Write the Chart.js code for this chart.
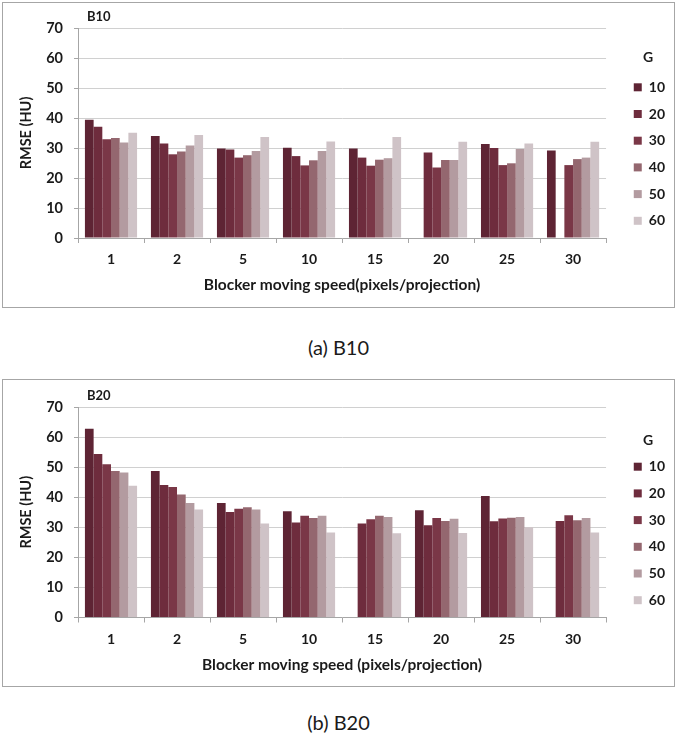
<!DOCTYPE html>
<html>
<head>
<meta charset="utf-8">
<title>RMSE vs blocker moving speed</title>
<script src="https://cdn.jsdelivr.net/npm/chart.js@4.4.1/dist/chart.umd.min.js"></script>
<style>
  body { margin: 0; background: #fff; width: 677px; height: 736px; position: relative; overflow: hidden; font-family: Lato, sans-serif; }
  .panel { position: absolute; left: 2px; width: 671px; border: 1px solid #a6a6a6; background: #fff; }
  .panel canvas { display: block; }
  .caption { position: absolute; left: 0; width: 677px; text-align: center; font-size: 20px; line-height: 24px; color: #1a1a1a; }
</style>
</head>
<body>
<div class="panel" style="top:2px;height:304px"><canvas id="chartA" width="671" height="304"></canvas></div>
<div class="caption" style="top:335px">(a) B10</div>
<div class="panel" style="top:379px;height:306px"><canvas id="chartB" width="671" height="306"></canvas></div>
<div class="caption" style="top:710px">(b) B20</div>

<script>
// x categories: blocker moving speed (pixels/projection)
const speeds = ["1", "2", "5", "10", "15", "20", "25", "30"];
const gLabels = ["10", "20", "30", "40", "50", "60"];
const gColors = ["#5e2434", "#6e2c3d", "#7a3747", "#94676f", "#b39ba0", "#cfc3c7"];

// (a) B10, RMSE (HU) per G  (null = no bar)
const b10G10 = [39.4, 34.0, 29.8, 30.1, 29.8, null, 31.3, 29.2];
const b10G20 = [37.1, 31.5, 29.5, 27.3, 26.8, 28.5, 30.0, null];
const b10G30 = [32.9, 27.9, 26.8, 24.2, 24.1, 23.5, 24.3, 24.3];
const b10G40 = [33.3, 28.8, 27.6, 25.9, 26.1, 26.0, 24.9, 26.3];
const b10G50 = [31.8, 30.8, 29.0, 29.0, 26.6, 26.0, 29.7, 26.8];
const b10G60 = [35.1, 34.3, 33.7, 32.2, 33.7, 32.1, 31.5, 32.1];

// (b) B20
const b20G10 = [62.8, 48.7, 38.1, 35.3, null, 35.7, 40.4, null];
const b20G20 = [54.4, 44.1, 35.1, 31.6, 31.3, 30.7, 32.0, 32.1];
const b20G30 = [51.0, 43.4, 36.2, 33.8, 32.7, 33.1, 32.9, 34.0];
const b20G40 = [48.7, 40.9, 36.7, 33.1, 33.8, 32.1, 33.2, 32.3];
const b20G50 = [48.2, 38.1, 35.9, 33.8, 33.4, 32.8, 33.4, 33.1];
const b20G60 = [43.8, 35.9, 31.3, 28.3, 28.0, 28.1, 30.0, 28.3];

const ink = "#1a1a1a";
const gridGrey = "#d0d0d0";
const axisGrey = "#a6a6a6";

Chart.defaults.font.family = "Lato, sans-serif";
Chart.defaults.color = ink;

// shift title / legend sideways, chart.js has no x offset for them
const nudge = {
	id: "nudge",
	afterLayout(chart) {
		chart.titleBlock.left += 84;
		chart.legend.left += 15;
		chart.legend.right += 15;
	}
};

function buildChart(canvasId, titleText, xTitle, series, lay) {
	return new Chart(document.getElementById(canvasId), {
		type: "bar",
		data: {
			labels: speeds,
			datasets: series.map((vals, i) => ({
				label: gLabels[i],
				data: vals,
				backgroundColor: gColors[i],
				borderWidth: 0
			}))
		},
		options: {
			responsive: false,
			animation: false,
			layout: { padding: { right: 14 } },
			datasets: { bar: { barPercentage: 1, categoryPercentage: 0.79 } },
			plugins: {
				title: {
					display: true,
					text: titleText,
					align: "start",
					color: ink,
					font: { size: 13, weight: "bold" },
					padding: { top: lay.titleTop, bottom: lay.titleBottom }
				},
				legend: {
					position: "right",
					align: "start",
					title: {
						display: true,
						text: "G",
						color: ink,
						font: { size: 14, weight: "bold" },
						padding: { top: lay.legTop, bottom: lay.legBottom }
					},
					labels: {
						boxWidth: 8,
						boxHeight: 8,
						padding: 12.7,
						color: ink,
						font: { size: 14, weight: "bold" }
					}
				},
				tooltip: { enabled: false }
			},
			scales: {
				x: {
					grid: { display: true, drawOnChartArea: false, tickLength: 5, color: axisGrey },
					border: { color: axisGrey },
					ticks: { color: ink, font: { size: 14, weight: "bold" }, padding: lay.xTickPad },
					title: {
						display: true,
						text: xTitle,
						color: ink,
						font: { size: 15.5, weight: "bold" },
						padding: { top: 0, bottom: lay.xTitlePad }
					},
					afterFit: (s) => { s.height = lay.xHeight; }
				},
				y: {
					min: 0,
					max: 70,
					ticks: { stepSize: 10, color: ink, font: { size: 14.5, weight: "bold" }, padding: 11 },
					grid: { color: gridGrey, tickLength: 4, tickColor: axisGrey },
					border: { color: axisGrey },
					title: {
						display: true,
						text: "RMSE (HU)",
						color: ink,
						font: { size: 14.5, weight: "bold" },
						padding: { top: 15, bottom: 0 }
					},
					afterFit: (s) => { s.width = 75; }
				}
			}
		},
		plugins: [nudge]
	});
}

buildChart("chartA", "B10", "Blocker moving speed(pixels/projection)",
	[b10G10, b10G20, b10G30, b10G40, b10G50, b10G60],
	{ titleTop: 6, titleBottom: 3.4, legTop: 47.7, legBottom: 0.1, xTickPad: 7.6, xTitlePad: 13, xHeight: 69 });

buildChart("chartB", "B20", "Blocker moving speed (pixels/projection)",
	[b20G10, b20G20, b20G30, b20G40, b20G50, b20G60],
	{ titleTop: 8.2, titleBottom: 3.2, legTop: 53, legBottom: -2.8, xTickPad: 8.1, xTitlePad: 12, xHeight: 68.5 });
</script>
</body>
</html>
